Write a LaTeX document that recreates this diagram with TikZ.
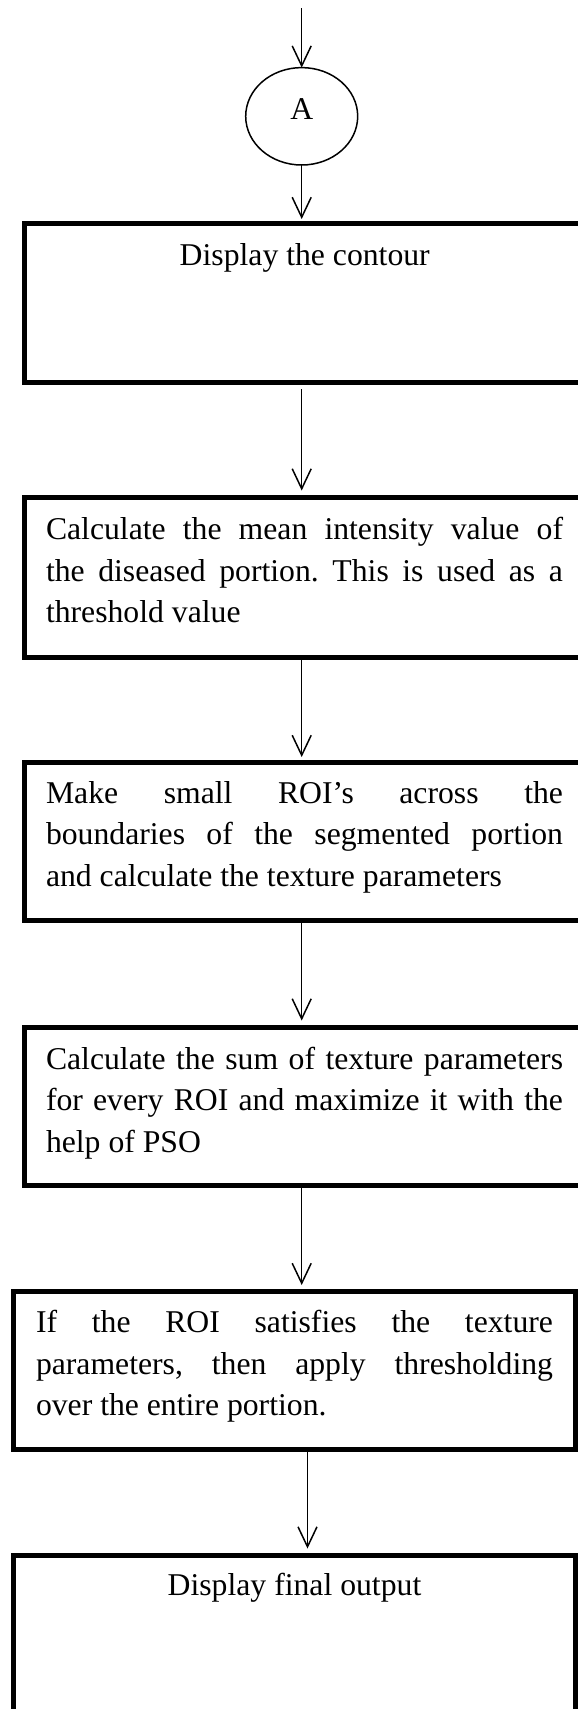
\documentclass[tikz,border=0pt]{standalone}
\usepackage{fontspec}
\setmainfont{Liberation Serif}
\usetikzlibrary{arrows.meta,shapes.geometric}
\setlength{\parindent}{0pt}
\tolerance=10000
\hbadness=10000
\frenchspacing

\tikzset{
  stepbox/.style={draw, line width=5pt, inner sep=0pt, outer sep=0pt,
    minimum width=561.5pt, anchor=north west},
  connector/.style={draw, ellipse, line width=1.5pt, inner sep=0pt, outer sep=0pt,
    minimum width=112pt, minimum height=97.4pt,
    font=\fontsize{31.7pt}{41.5pt}\selectfont, text height=21pt, text depth=14.6pt},
  boxtext/.style={inner sep=0pt, outer sep=0pt, anchor=north west,
    text width=517pt, align=justify,
    font=\fontsize{31.7pt}{41.5pt}\selectfont},
  boxtitle/.style={inner sep=0pt, anchor=base,
    font=\fontsize{31.7pt}{41.5pt}\selectfont},
  flow/.style={line width=1.5pt, -{Straight Barb[length=20pt,width=19pt]}}
}

% first line of every text block gets a fixed height
\newcommand{\firstline}{\rule{0pt}{30pt}}

\begin{document}
\begin{tikzpicture}[x=1pt, y=-1pt]
  \useasboundingbox (0,0) rectangle (578,1709);
  \fill[white] (0,0) rectangle (578,1709);
  \clip (0,0) rectangle (578,1709);

  % spine positions of the connectors
  \coordinate (sp) at (301.7,0);
  \coordinate (sq) at (307.5,0);
  \coordinate (entry) at (301.7,8.3);

  % off-page connector
  \node[connector] (A) at (301.7,116.3) {A};

  % process boxes
  \node[stepbox, minimum height=159.5pt] (b1) at (24,223) {};
  \node[stepbox, minimum height=159.5pt] (b2) at (24,497.5) {};
  \node[stepbox, minimum height=158.5pt] (b3) at (24,762) {};
  \node[stepbox, minimum height=158pt]   (b4) at (24,1027.5) {};
  \node[stepbox, minimum height=158.5pt] (b5) at (13.8,1291) {};
  \node[stepbox, minimum height=300pt]   (b6) at (13.8,1555.5) {};

  % box texts
  \node[boxtitle] (t1) at (304.75,265) {Display the contour};
  \node[boxtext] (t2) at (46,509.5) {\firstline Calculate the mean intensity value of\linebreak the diseased portion. This is used as a\linebreak threshold value};
  \node[boxtext] (t3) at (46,773) {\firstline Make small ROI’s across the\linebreak boundaries of the segmented portion\linebreak and calculate the texture parameters};
  \node[boxtext] (t4) at (46,1039) {\firstline Calculate the sum of texture parameters\linebreak for every ROI and maximize it with the\linebreak help of PSO};
  \node[boxtext] (t5) at (36,1302.5) {\firstline If the ROI satisfies the texture\linebreak parameters, then apply thresholding\linebreak over the entire portion.};
  \node[boxtitle] (t6) at (294.5,1595) {Display final output};

  % connectors
  \draw[flow] (entry) -- (A.north);
  \draw[flow, shorten >=4pt] (A.south) -- (b1.north -| sp);
  \draw[flow, shorten <=6.5pt, shorten >=7pt] (b1.south -| sp) -- (b2.north -| sp);
  \draw[flow, shorten <=2.5pt, shorten >=5pt] (b2.south -| sp) -- (b3.north -| sp);
  \draw[flow, shorten <=2.5pt, shorten >=7pt] (b3.south -| sp) -- (b4.north -| sp);
  \draw[flow, shorten <=2.5pt, shorten >=6pt] (b4.south -| sp) -- (b5.north -| sp);
  \draw[flow, shorten <=2.5pt, shorten >=7pt] (b5.south -| sq) -- (b6.north -| sq);
\end{tikzpicture}
\end{document}
